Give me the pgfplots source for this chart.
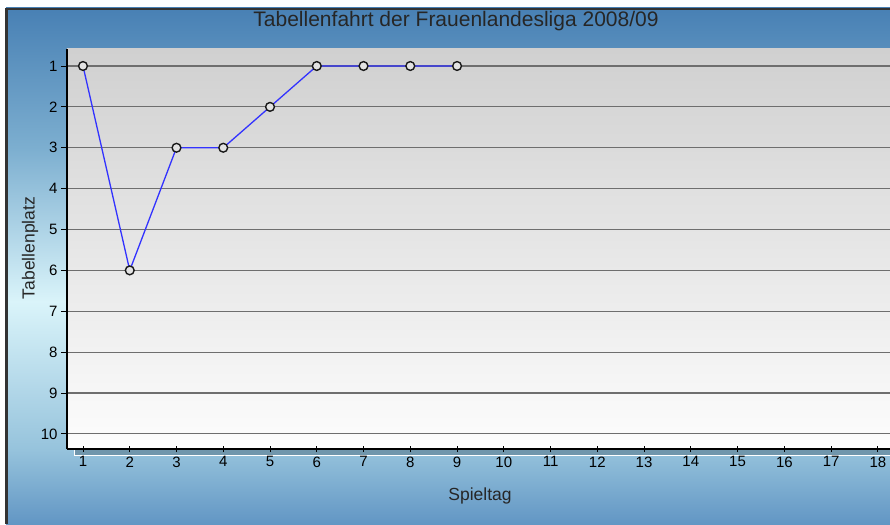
\documentclass[border=0pt]{standalone}
\usepackage{fontspec}
\setmainfont{Liberation Sans}
\usepackage{pgfplots}
\pgfplotsset{compat=1.18}
\definecolor{bgA}{RGB}{72,128,180}
\definecolor{bgB}{RGB}{125,175,208}
\definecolor{bgC}{RGB}{218,244,250}
\definecolor{bgD}{RGB}{150,195,220}
\definecolor{bgE}{RGB}{98,150,196}
\definecolor{plottop}{RGB}{208,208,208}
\definecolor{plotbot}{RGB}{253,253,253}
\definecolor{gridcol}{RGB}{110,110,110}
\definecolor{linecol}{RGB}{50,50,255}
\definecolor{floorcol}{RGB}{112,150,172}
\begin{document}
\begin{tikzpicture}
\useasboundingbox (0pt,0pt) rectangle (890pt,524pt);
\fill[white] (0pt,0pt) rectangle (890pt,524pt);
% vertical background profile (tikz y = 524 - image y)
\shade[top color=bgA, bottom color=bgB] (6pt,374pt) rectangle (890pt,516pt);
\shade[top color=bgB, bottom color=bgC] (6pt,222pt) rectangle (890pt,374.5pt);
\shade[top color=bgC, bottom color=bgD] (6pt,74pt) rectangle (890pt,222.5pt);
\shade[top color=bgD, bottom color=bgE] (6pt,0pt) rectangle (890pt,74.5pt);
\draw[black!80, line width=2.5pt] (6.5pt,0pt) -- (6.5pt,515pt) -- (890pt,515pt);
% floor strip
\fill[floorcol] (74pt,68pt) rectangle (890pt,75pt);
\draw[white, line width=1pt] (74pt,75pt) -- (74pt,68pt) -- (890pt,68pt);
\begin{axis}[
  at={(67pt,75pt)}, anchor=south west,
  scale only axis, width=823pt, height=400pt,
  xmin=0.658, xmax=18.26,
  ymin=0.584, ymax=10.37,
  y dir=reverse,
  axis lines*=left,
  axis line style={black, line width=1.2pt},
  xtick={1,...,18}, ytick={1,...,10},
  xtick align=center, ytick align=outside,
  major tick length=6pt,
  tick style={black, line width=0.9pt},
  ymajorgrids,
  grid style={gridcol, line width=1.1pt},
  axis background/.style={top color=plottop, bottom color=plotbot},
  tick label style={font=\fontsize{15}{16}\selectfont, text=black},
  x tick label style={yshift=-1pt},
  /pgf/number format/assume math mode=true,
  clip=false,
]
\addplot[linecol, line width=1.3pt, mark=*, mark size=4.4pt,
  mark options={draw=black!90, fill=plottop!60!white, line width=1.4pt}]
  coordinates {(1,1) (2,6) (3,3) (4,3) (5,2) (6,1) (7,1) (8,1) (9,1)};
\end{axis}
\node[font=\fontsize{21}{22}\selectfont, text=black!85] at (456pt,503pt) {Tabellenfahrt der Frauenlandesliga 2008/09};
\node[font=\fontsize{17.5}{18}\selectfont, text=black!85] at (480pt,28pt) {Spieltag};
\node[font=\fontsize{17.5}{18}\selectfont, text=black!85, rotate=90] at (30pt,276pt) {Tabellenplatz};
\end{tikzpicture}
\end{document}
